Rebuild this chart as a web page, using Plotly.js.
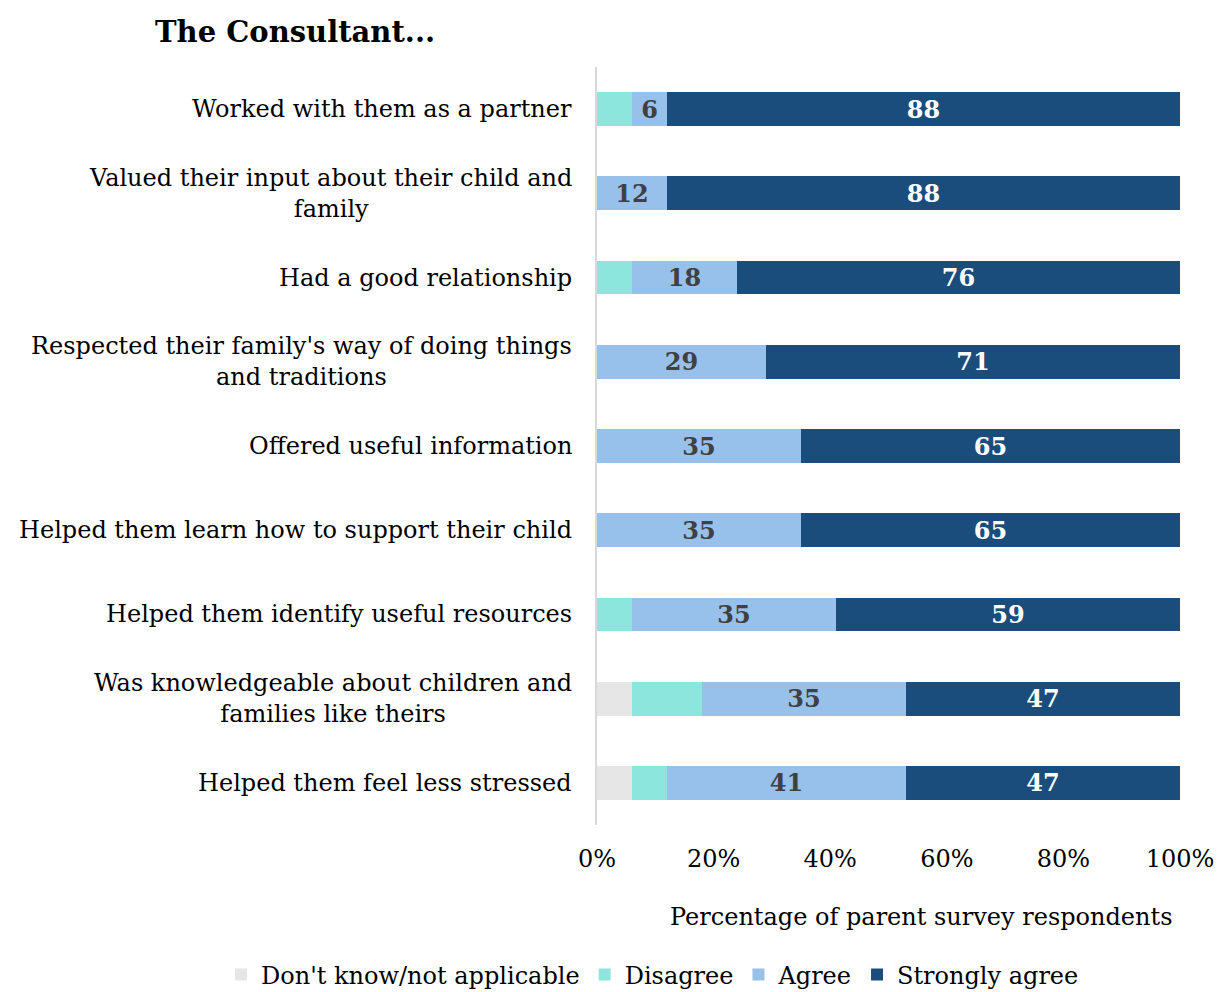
<!DOCTYPE html>
<html>
<head>
<meta charset="utf-8">
<script src="https://cdn.plot.ly/plotly-3.0.1.min.js"></script>
<style>html,body{margin:0;padding:0;background:#fff;}#chart{width:1217px;height:992px;}</style>
</head>
<body>
<div id="chart"></div>
<script>
const categories = [
  "Worked with them as a partner",
  "Valued their input about their child and<br>family",
  "Had a good relationship",
  "Respected their family's way of doing things<br>and traditions",
  "Offered useful information",
  "Helped them learn how to support their child",
  "Helped them identify useful resources",
  "Was knowledgeable about children and<br>families like theirs",
  "Helped them feel less stressed"
];
const dontKnow      = [0, 0, 0, 0, 0, 0, 0, 6, 6];
const disagree      = [6, 0, 6, 0, 0, 0, 6, 12, 6];
const agree         = [6, 12, 18, 29, 35, 35, 35, 35, 41];
const stronglyAgree = [88, 88, 76, 71, 65, 65, 59, 47, 47];
const xTickVals = [0, 20, 40, 60, 80, 100];
const xTickText = ["0%", "20%", "40%", "60%", "80%", "100%"];
const xAxisTitle = "Percentage of parent survey respondents";

const FONT = "DejaVu Serif, serif";

function mk(name, vals, color, showText, textColor) {
  return {
    type: "bar", orientation: "h", name: name,
    y: categories, x: vals,
    marker: {color: color},
    text: showText ? vals.map(String) : undefined,
    textposition: showText ? "inside" : "none",
    insidetextanchor: "middle",
    textangle: 0,
    constraintext: "none",
    textfont: {family: FONT, size: 24, color: textColor, weight: "bold"},
    hoverinfo: "x+name"
  };
}

const data = [
  mk("Don't know/not applicable", dontKnow, "#e6e6e6", false),
  mk("Disagree", disagree, "#8ce6de", false),
  mk("Agree", agree, "#97c1eb", true, "#404040"),
  mk("Strongly agree", stronglyAgree, "#1a4d7c", true, "#ffffff")
];

const annotations = categories.map(c => ({
  xref: "paper", yref: "y", x: 0, y: c, xanchor: "right", yanchor: "middle",
  xshift: -23, align: "center", showarrow: false, text: c,
  font: {family: FONT, size: 24, color: "#000"}
}));
annotations.push({
  xref: "paper", yref: "paper", x: (921 - 597) / 583, y: -(917 - 825) / 758,
  xanchor: "center", yanchor: "middle", showarrow: false, text: xAxisTitle,
  font: {family: FONT, size: 24, color: "#000"}
});

const layout = {
  width: 1217, height: 992,
  paper_bgcolor: "#fff", plot_bgcolor: "#fff",
  margin: {l: 597, r: 37, t: 67, b: 167, autoexpand: false},
  barmode: "stack", bargap: 0.6,
  font: {family: FONT, size: 24, color: "#000"},
  title: {
    text: "<b>The Consultant...</b>",
    x: 155/1217, xref: "container", xanchor: "left",
    y: 1 - 32/992, yref: "container", yanchor: "middle",
    font: {family: FONT, size: 29, color: "#000"}
  },
  xaxis: {
    range: [0, 100], tickvals: xTickVals, ticktext: xTickText,
    showgrid: false, zeroline: false, showline: false,
    ticks: "", ticklabelstandoff: 17,
    tickfont: {family: FONT, size: 24, color: "#000"},
    automargin: false, fixedrange: true
  },
  yaxis: {
    autorange: "reversed", showticklabels: false, ticks: "",
    showgrid: false, zeroline: false,
    showline: true, linecolor: "#d9d9d9", linewidth: 2,
    automargin: false, fixedrange: true
  },
  legend: {
    orientation: "h", xref: "paper", x: (221 - 597) / 583, xanchor: "left",
    yref: "paper", y: -(975 - 825) / 758, yanchor: "middle",
    font: {family: FONT, size: 24, color: "#000"},
    traceorder: "normal", itemwidth: 30
  },
  annotations: annotations,
  showlegend: true
};

Plotly.newPlot("chart", data, layout, {displayModeBar: false, staticPlot: true});
</script>
</body>
</html>
